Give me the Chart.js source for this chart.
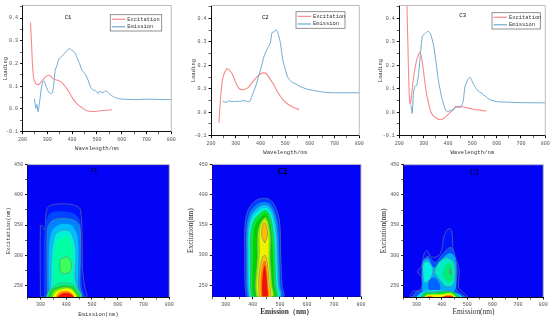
<!DOCTYPE html>
<html>
<head>
<meta charset="utf-8">
<style>
  html, body { margin: 0; padding: 0; background: #fff; width: 550px; height: 319px; overflow: hidden; }
  canvas { position: absolute; filter: blur(0.35px); }
</style>
<script src="https://cdn.jsdelivr.net/npm/chart.js@4/dist/chart.umd.min.js"></script>
</head>
<body>
<script>
// top row: loadings, [wavelength, loading]
const c1Excitation = [[232,.38],[236,.3],[240,.2],[245,.135],[250,.12],[255,.11],[262,.107],[270,.112],[280,.125],[290,.138],[300,.147],[310,.147],[320,.137],[330,.13],[345,.125],[360,.115],[375,.095],[390,.07],[405,.042],[420,.022],[440,.005],[460,-.008],[480,-.011],[500,-.01],[530,-.006],[560,-.004]];
const c1Emission = [[248,.045],[254,.002],[258,.02],[263,-.012],[270,.04],[276,.09],[282,.12],[288,.122],[295,.1],[305,.075],[312,.068],[320,.07],[325,.1],[332,.17],[340,.195],[348,.222],[358,.23],[370,.245],[380,.258],[388,.265],[400,.258],[410,.25],[420,.225],[430,.2],[440,.17],[455,.15],[465,.125],[475,.095],[485,.083],[495,.08],[505,.067],[510,.077],[520,.073],[530,.074],[535,.08],[545,.072],[560,.058],[575,.05],[590,.045],[610,.043],[650,.041],[700,.043],[750,.042],[800,.041]];
const c2Excitation = [[232,-.045],[238,.05],[244,.12],[250,.155],[258,.175],[265,.186],[275,.178],[285,.165],[295,.14],[305,.115],[315,.1],[325,.096],[335,.097],[350,.105],[365,.125],[385,.15],[400,.163],[412,.168],[425,.163],[440,.14],[455,.115],[470,.085],[490,.055],[510,.035],[530,.022],[556,.011]];
const c2Emission = [[248,.047],[258,.043],[265,.042],[272,.05],[280,.046],[300,.046],[320,.047],[330,.05],[345,.046],[357,.047],[370,.08],[385,.125],[400,.18],[415,.24],[430,.275],[440,.295],[447,.34],[455,.342],[462,.352],[470,.34],[480,.3],[490,.225],[500,.185],[510,.15],[525,.13],[540,.122],[560,.11],[590,.098],[620,.092],[660,.085],[700,.083],[750,.083],[800,.083]];
const c3Excitation = [[231,.47],[235,.3],[240,.1],[244,.035],[248,.05],[255,.12],[265,.19],[275,.235],[285,.255],[292,.23],[300,.17],[310,.09],[320,.04],[330,0],[340,-.015],[355,-.027],[368,-.032],[385,-.025],[400,-.01],[415,.005],[430,.02],[445,.025],[470,.021],[500,.014],[530,.009],[558,.005]];
const c3Emission = [[248,.03],[253,-.005],[258,.08],[264,.11],[272,.115],[280,.17],[288,.26],[295,.325],[305,.335],[318,.345],[328,.335],[340,.29],[350,.22],[360,.14],[375,.06],[390,.01],[397,.003],[410,.007],[425,.012],[432,.027],[440,.02],[455,.025],[463,.05],[470,.11],[480,.135],[490,.15],[498,.135],[510,.11],[520,.095],[540,.08],[570,.055],[600,.045],[640,.043],[700,.041],[800,.04]];

const seriesNames = ['Excitation', 'Emission'];
const loadingTicks = [-.1,-.05,0,.05,.1,.15,.2,.25,.3,.35,.4,.45];
const wavelengthTicks = [200,250,300,350,400,450,500,550,600,650,700,750,800];
const emissionTicks = [250,300,350,400,450,500,550,600,650,700,750,800];
const excitationTicks = [250,275,300,325,350,375,400,425,450];

// bottom row: contour outlines, [emission, excitation], lowest level first
const c1Contours = [
  [[300,231],[300,349],[308,349],[317,342],[323,372],[336,382],[401,385],[447,380],[457,372],[462,328],[464,273],[473,246],[477,231]],
  [[314,231],[314,320],[322,356],[340,370],[400,372],[440,366],[456,352],[460,300],[460,250],[466,231]],
  [[327,231],[327,339],[336,353],[362,360],[401,361],[434,357],[453,347],[455,300],[453,250],[458,231]],
  [[333,231],[333,310],[345,340],[370,350],[400,352],[425,348],[445,328],[447,280],[446,250],[452,231]],
  [[335,231],[340,254],[343,300],[356,333],[375,340],[401,342],[421,336],[438,306],[434,262],[445,245],[448,231]],
  [[345,231],[352,254],[352,290],[365,322],[385,330],[402,332],[418,325],[428,295],[425,262],[435,245],[440,231]],
  [[375,284],[377,292],[390,296],[405,297],[417,290],[420,280],[415,273],[400,270],[385,270],[377,275]],
  [[322,231],[335,242],[360,251],[395,254],[430,251],[450,241],[460,231]],
  [[328,231],[342,243],[370,249],[395,251],[425,249],[445,240],[455,231]],
  [[338,231],[352,242],[380,247],[398,248],[420,246],[438,239],[447,231]],
  [[348,231],[362,240],[385,244],[400,245],[420,243],[432,237],[438,231]],
  [[358,231],[372,239],[400,241.5],[418,239],[431,231]],
  [[366,231],[380,236],[400,238],[418,236],[428,231]]
];
const c1Fills = ['#0014ff','#0046ff','#0082ff','#00beff','#00f0dc','#00ffa0','#3cff5a','#00fa96','#00e132','#64f000','#fafa00','#ff9600','#f0140a'];
const c1Lined = [1,0,1,0,1,0,1,1,0,1,0,0,0];

const c2Contours = [
  [[376,231],[371,250],[370,300],[371,350],[383,375],[410,390],[445,394],[470,389],[490,372],[500,350],[503,300],[508,250],[512,231]],
  [[380,231],[376,250],[375,300],[376,345],[388,370],[415,384],[445,388],[468,383],[485,366],[494,345],[498,300],[502,250],[506,231]],
  [[385,231],[381,250],[380,300],[381,342],[393,365],[420,379],[445,383],[465,378],[480,362],[488,340],[492,300],[496,250],[500,231]],
  [[390,231],[386,250],[385,300],[386,338],[398,361],[425,374],[445,378],[462,373],[475,358],[483,336],[487,300],[491,250],[495,231]],
  [[395,231],[391,250],[391,300],[392,334],[404,357],[430,370],[445,374],[459,369],[470,353],[477,332],[481,300],[485,250],[489,231]],
  [[402,231],[398,250],[400,300],[401,330],[411,352],[433,365],[445,369],[456,364],[465,349],[471,328],[474,300],[479,250],[483,231]],
  [[412,231],[408,250],[416,295],[416,330],[424,350],[438,360],[446,363],[454,359],[462,346],[467,326],[465,300],[472,250],[476,231]],
  [[419,231],[415,250],[424,290],[427,305],[425,335],[432,350],[445,358],[453,350],[458,335],[458,310],[458,290],[466,250],[470,231]],
  [[444,320],[433,332],[434,345],[443,354],[451,345],[454,332]],
  [[424,231],[421,250],[427,280],[438,298],[446,299],[454,285],[460,255],[464,231]],
  [[430,231],[428,250],[432,275],[440,290],[447,290],[453,270],[457,245],[459,231]],
  [[435,231],[434,250],[438,272],[444,283],[449,272],[453,250],[454,231]]
];
const c2Fills = ['#003cff','#0082ff','#00c8ff','#00ffc8','#00eb3c','#00d200','#78f000','#f0f000','#ffbe00','#ffc800','#ff7800','#eb140a'];
const c2Lined = [1,0,1,0,1,0,1,0,1,1,0,0];

const c3Contours = [
  [[275,231],[285,240],[318,243],[322,262],[304,273],[320,282],[330,302],[342,308],[360,297],[393,302],[410,333],[426,344],[439,341],[446,305],[468,278],[466,247],[480,240],[499,231]],
  [[285,231],[295,238],[320,245],[322,270],[326,290],[346,298],[373,288],[400,300],[432,313],[447,307],[460,275],[456,245],[470,238],[488,231]],
  [[324,238],[325,288],[345,295],[370,280],[400,294],[432,304],[452,296],[457,265],[448,240],[390,236],[350,236]],
  [[346,250],[352,260],[372,263],[390,254],[393,243],[375,238],[352,240]],
  [[327,262],[327,286],[345,290],[365,276],[356,262],[343,256],[332,255]],
  [[370,272],[388,288],[420,296],[447,288],[452,265],[442,250],[415,249],[398,256],[382,265]],
  [[403,272],[415,284],[430,288],[445,275],[441,257],[425,256],[408,262]],
  [[430,272],[433,278],[436,272],[433,268]],
  [[300,231],[318,238],[350,242],[400,242],[440,240],[465,236],[480,231]],
  [[320,231],[332,238],[370,239],[420,241],[450,238],[465,231]],
  [[330,231],[345,235],[400,236],[435,238],[450,234],[455,231]],
  [[335,231],[350,234],[400,234.5],[430,236],[445,233],[450,231]],
  [[400,231],[420,233.5],[440,233],[445,231]],
  [[338,231],[350,233],[365,231]]
];
const c3Fills = ['#0014ff','#0050ff','#00aaff','#0064ff','#00f0e6','#00ebc8','#00eb78','#3cc850','#00dce6','#00e13c','#b4fa00','#faf000','#f02800','#ff7800'];
const c3Lined = [1,1,0,0,1,1,0,1,0,1,0,0,0,0];

const pts = (list) => list.map(([x, y]) => ({ x, y }));
const closed = (list) => pts([...list, list[0]]);

// panel frame, legend and the C1/C2/C3 labels are painted here
const panelPlugin = {
  id: 'panel',
  beforeDatasetsDraw(chart, args, opts) {
    if (!opts.field) return;
    const { ctx, chartArea: a } = chart;
    ctx.save();
    ctx.fillStyle = opts.field;
    ctx.fillRect(a.left, a.top, a.right - a.left, a.bottom - a.top);
    ctx.restore();
  },
  afterDraw(chart, args, opts) {
    const { ctx, chartArea: a } = chart;
    const ox = parseFloat(chart.canvas.style.left);
    const oy = parseFloat(chart.canvas.style.top);
    ctx.save();
    ctx.strokeStyle = '#bdbdbd';
    ctx.lineWidth = 1;
    ctx.beginPath();
    ctx.moveTo(a.left, a.top);
    ctx.lineTo(a.right, a.top);
    ctx.lineTo(a.right, a.bottom);
    ctx.stroke();
    ctx.fillStyle = '#000';
    ctx.font = opts.titleFont;
    ctx.textAlign = 'center';
    ctx.textBaseline = 'middle';
    ctx.fillText(opts.title, opts.titleAt[0] - ox, opts.titleAt[1] - oy);
    if (opts.legendBox) {
      const [lx, ly, lw, lh] = opts.legendBox;
      ctx.strokeStyle = '#777';
      ctx.lineWidth = 0.8;
      ctx.strokeRect(lx - ox, ly - oy, lw, lh);
      ctx.font = '5.4px "Liberation Mono"';
      ctx.textAlign = 'left';
      chart.data.datasets.forEach((ds, i) => {
        const rowY = ly - oy + lh * (i === 0 ? 0.28 : 0.74);
        ctx.strokeStyle = ds.borderColor;
        ctx.lineWidth = 1.2;
        ctx.beginPath();
        ctx.moveTo(lx - ox + 1.6, rowY);
        ctx.lineTo(lx - ox + 15, rowY);
        ctx.stroke();
        ctx.fillStyle = '#333';
        ctx.fillText(ds.label, lx - ox + 17, rowY);
      });
    }
    ctx.restore();
  },
};

function axisOptions(tickList, step, title, titleFont, fixedSize, isY) {
  return {
    type: 'linear',
    afterBuildTicks: (axis) => { axis.ticks = tickList.map((value) => ({ value })); },
    afterFit: (axis) => { if (isY) axis.width = fixedSize; else axis.height = fixedSize; },
    border: { color: '#111', width: 1 },
    grid: {
      drawOnChartArea: false,
      tickLength: 2.5,
      tickColor: (c) => (Math.abs(c.tick.value / step - Math.round(c.tick.value / step)) < 1e-6 ? '#111' : '#666'),
    },
    ticks: {
      autoSkip: false,
      maxRotation: 0,
      padding: 2,
      color: '#555',
      font: { family: 'Liberation Mono', size: 5 },
      callback: (v) => {
        if (Math.abs(v / step - Math.round(v / step)) > 1e-6) return '';
        return step < 1 ? v.toFixed(1) : String(v);
      },
    },
    title: { display: true, text: title, color: '#333', padding: 0, font: titleFont },
  };
}

function makeChart(box, area, datasets, xAxis, yAxis, panel) {
  const cv = document.createElement('canvas');
  const [x0, y0, w, h] = box;
  cv.width = w;
  cv.height = h;
  cv.style.left = x0 + 'px';
  cv.style.top = y0 + 'px';
  cv.style.width = w + 'px';
  cv.style.height = h + 'px';
  document.body.appendChild(cv);
  const [aL, aT, aR, aB] = area;
  const xa = axisOptions(xAxis.ticks, xAxis.step, xAxis.title, xAxis.font, y0 + h - aB, false);
  const ya = axisOptions(yAxis.ticks, yAxis.step, yAxis.title, yAxis.font, aL - x0, true);
  xa.min = xAxis.min; xa.max = xAxis.max;
  ya.min = yAxis.min; ya.max = yAxis.max;
  return new Chart(cv, {
    type: 'scatter',
    data: { datasets },
    options: {
      responsive: false,
      animation: false,
      layout: { padding: { top: aT - y0, right: x0 + w - aR, left: 0, bottom: 0 } },
      plugins: { legend: { display: false }, tooltip: { enabled: false }, panel },
      scales: { x: xa, y: ya },
    },
    plugins: [panelPlugin],
  });
}

const monoFont = { family: 'Liberation Mono', size: 5.6 };
const serifFont = { family: 'Liberation Serif', size: 7.4 };

function lineSets(excitation, emission) {
  return [
    { label: seriesNames[0], data: pts(excitation), showLine: true, borderColor: '#f98a8a', borderWidth: 1.1, pointRadius: 0, tension: 0.3, order: 2 },
    { label: seriesNames[1], data: pts(emission), showLine: true, borderColor: '#6caad2', borderWidth: 1, pointRadius: 0, tension: 0.2, order: 1 },
  ];
}

// chart.js paints the lowest order last, so inner levels get the lower numbers
function contourSets(contours, fills, lined) {
  return contours.map((list, i) => ({
    label: 'level ' + (i + 1),
    data: closed(list),
    order: contours.length - i,
    showLine: true,
    fill: 'shape',
    backgroundColor: fills[i],
    borderColor: lined[i] ? '#6f7f93' : fills[i],
    borderWidth: lined[i] ? 0.6 : 0,
    pointRadius: 0,
    tension: 0.35,
  }));
}

const topX = { ticks: wavelengthTicks, step: 100, min: 200, max: 800, title: 'Wavelength/nm', font: monoFont };
const topY = { ticks: loadingTicks, step: 0.1, min: -0.1, max: 0.455, title: 'Loading', font: monoFont };
const botX = (title, font) => ({ ticks: emissionTicks, step: 100, min: 250, max: 800, title, font });
const botY = (font) => ({ ticks: excitationTicks, step: 50, min: 231, max: 450, title: 'Excitation(nm)', font });
const monoTitle = '5.6px "Liberation Mono"';
const serifTitle = '7.5px "Liberation Serif"';

makeChart([2, 0, 186, 152], [22.5, 5.5, 171.3, 131.7], lineSets(c1Excitation, c1Emission), topX, topY,
  { title: 'C1', titleAt: [68, 17.7], titleFont: monoTitle, legendBox: [110.3, 14.7, 51.4, 16.3] });
makeChart([190, 0, 186, 156], [211, 5.5, 359.3, 135.7], lineSets(c2Excitation, c2Emission), topX, topY,
  { title: 'C2', titleAt: [265.3, 17.7], titleFont: monoTitle, legendBox: [296, 11.7, 49, 16.6] });
makeChart([377, 0, 186, 156], [399.3, 5.5, 545.3, 135.7], lineSets(c3Excitation, c3Emission), topX, topY,
  { title: 'C3', titleAt: [462.7, 15.7], titleFont: monoTitle, legendBox: [492, 12.7, 48.3, 16.3] });

makeChart([5, 155, 186, 163], [27.5, 164.6, 169.3, 297], contourSets(c1Contours, c1Fills, c1Lined),
  botX('Emission(nm)', monoFont), botY(monoFont),
  { field: '#0303f5', title: 'C1', titleAt: [94, 171], titleFont: monoTitle });
makeChart([187, 155, 186, 162], [212.3, 164.4, 361, 296.7], contourSets(c2Contours, c2Fills, c2Lined),
  botX('Emission\uFF08nm\uFF09', { family: 'Liberation Serif', size: 7.4, weight: 'bold' }), botY(serifFont),
  { field: '#0303f5', title: 'C2', titleAt: [282.7, 171.7], titleFont: 'bold 8px "Liberation Serif"' });
makeChart([380, 155, 186, 162], [403.7, 164.7, 543.3, 297], contourSets(c3Contours, c3Fills, c3Lined),
  botX('Emission(nm)', serifFont), botY(serifFont),
  { field: '#0303f5', title: 'C3', titleAt: [474.3, 173], titleFont: serifTitle });
</script>
</body>
</html>
